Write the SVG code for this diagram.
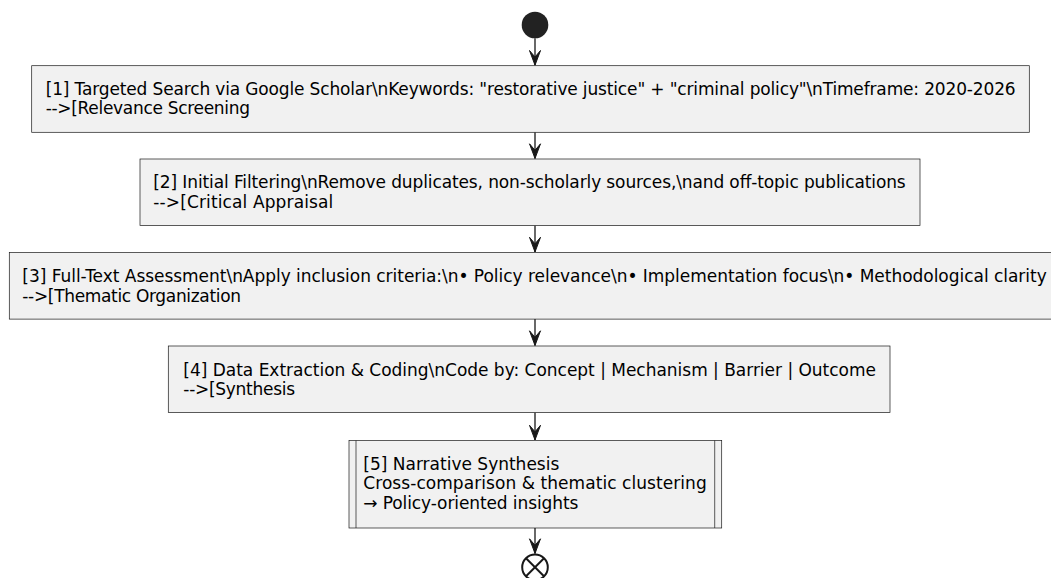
<svg xmlns="http://www.w3.org/2000/svg" width="1051" height="578" viewBox="0 0 1051 578">
<defs>
<style>
.box{fill:#F1F1F1;stroke:#181818;stroke-width:0.7}
.t{font-family:"DejaVu Sans",Verdana,sans-serif;font-size:17px;fill:#000}
.edge{stroke:#181818;stroke-width:1.3;fill:none}
.head{fill:#181818;stroke:#181818;stroke-width:1}
.endm{fill:none;stroke:#181818;stroke-width:2}
</style>
</defs>
<rect width="1051" height="578" fill="#FFFFFF"/>
<g id="start"><circle cx="535" cy="25" r="13.3" fill="#222222"/></g>
<g id="connectors">
<line class="edge" x1="535" y1="38.3" x2="535" y2="65.2"/>
<path class="head" d="M529.5,50.5 L535,65.2 L540.5,50.5 L535,57 Z"/>
<line class="edge" x1="535" y1="132.3" x2="535" y2="158.5"/>
<path class="head" d="M529.5,143.8 L535,158.5 L540.5,143.8 L535,150.3 Z"/>
<line class="edge" x1="535" y1="225.6" x2="535" y2="252"/>
<path class="head" d="M529.5,237.3 L535,252 L540.5,237.3 L535,243.8 Z"/>
<line class="edge" x1="535" y1="319.1" x2="535" y2="345.5"/>
<path class="head" d="M529.5,330.8 L535,345.5 L540.5,330.8 L535,337.3 Z"/>
<line class="edge" x1="535" y1="412.6" x2="535" y2="440"/>
<path class="head" d="M529.5,425.3 L535,440 L540.5,425.3 L535,431.8 Z"/>
<line class="edge" x1="535" y1="528" x2="535" y2="553.5"/>
<path class="head" d="M529.5,538.8 L535,553.5 L540.5,538.8 L535,545.3 Z"/>
</g>
<g id="n1">
<rect class="box" x="31.7" y="65.7" width="997.6" height="66.6"/>
<text class="t" x="45.7" y="94.5" textLength="970" lengthAdjust="spacing">[1] Targeted Search via Google Scholar\nKeywords: "restorative justice" + "criminal policy"\nTimeframe: 2020-2026</text>
<text class="t" x="45.7" y="114.3" textLength="204.3" lengthAdjust="spacing">--&gt;[Relevance Screening</text>
</g>
<g id="n2">
<rect class="box" x="140" y="159" width="780" height="66.6"/>
<text class="t" x="153.3" y="187.8" textLength="752.4" lengthAdjust="spacing">[2] Initial Filtering\nRemove duplicates, non-scholarly sources,\nand off-topic publications</text>
<text class="t" x="153.3" y="207.6" textLength="180" lengthAdjust="spacing">--&gt;[Critical Appraisal</text>
</g>
<g id="n3">
<rect class="box" x="9.3" y="252.5" width="1055" height="66.6"/>
<text class="t" x="22.3" y="281.8" textLength="1024.4" lengthAdjust="spacing">[3] Full-Text Assessment\nApply inclusion criteria:\n• Policy relevance\n• Implementation focus\n• Methodological clarity</text>
<text class="t" x="22.3" y="301.6" textLength="218.7" lengthAdjust="spacing">--&gt;[Thematic Organization</text>
</g>
<g id="n4">
<rect class="box" x="168.3" y="346" width="721.7" height="66.6"/>
<text class="t" x="183.3" y="375.5" textLength="692.7" lengthAdjust="spacing">[4] Data Extraction &amp; Coding\nCode by: Concept | Mechanism | Barrier | Outcome</text>
<text class="t" x="183.3" y="395.3" textLength="111.7" lengthAdjust="spacing">--&gt;[Synthesis</text>
</g>
<g id="n5">
<rect class="box" x="349" y="440.5" width="372.7" height="87.5"/>
<line class="box" x1="356" y1="440.5" x2="356" y2="528"/>
<line class="box" x1="714.7" y1="440.5" x2="714.7" y2="528"/>
<text class="t" x="363.3" y="469.5" textLength="196" lengthAdjust="spacing">[5] Narrative Synthesis</text>
<text class="t" x="363.3" y="489.3" textLength="343.4" lengthAdjust="spacing">Cross-comparison &amp; thematic clustering</text>
<text class="t" x="363.3" y="509.1" textLength="215" lengthAdjust="spacing">→ Policy-oriented insights</text>
</g>
<g id="end">
<circle class="endm" cx="535" cy="567.3" r="12.8"/>
<line class="endm" x1="526" y1="558.3" x2="544" y2="576.3"/>
<line class="endm" x1="544" y1="558.3" x2="526" y2="576.3"/>
</g>
</svg>
